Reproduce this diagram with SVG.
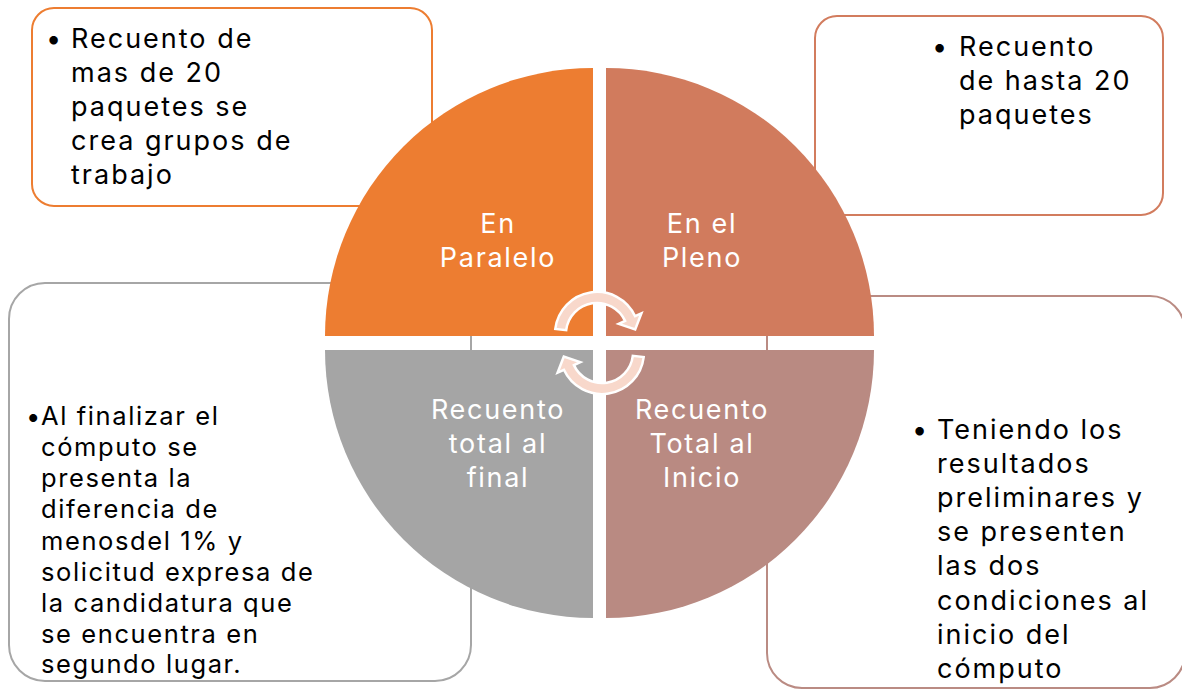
<svg xmlns="http://www.w3.org/2000/svg" width="1182" height="689" viewBox="0 0 1182 689">
<style>
.box{fill:#FFFFFF;stroke-width:2}
.t{font-family:Inter,"Noto Sans","Liberation Sans",sans-serif;font-size:27px;letter-spacing:2px;fill:#000000}
.tb{font-family:Inter,"Noto Sans","Liberation Sans",sans-serif;font-size:25.5px;letter-spacing:1.6px;fill:#000000}
.lbl{font-family:Inter,"Noto Sans","Liberation Sans",sans-serif;font-size:27px;letter-spacing:1.7px;fill:#FFFFFF;text-anchor:middle}
.arr{fill:#F8D8CB;stroke:#FFFFFF;stroke-width:2.5;stroke-linejoin:miter}
</style>
<rect width="1182" height="689" fill="#FFFFFF"/>
<g id="box-tl">
<rect class="box" x="32" y="8" width="400" height="198" rx="22" stroke="#ED7D31"/>
<text class="t"><tspan x="46" y="48">•</tspan><tspan x="71" y="48">Recuento de</tspan><tspan x="71" y="82">mas de 20</tspan><tspan x="71" y="116">paquetes se</tspan><tspan x="71" y="150">crea grupos de</tspan><tspan x="71" y="184">trabajo</tspan></text>
</g>
<g id="box-tr">
<rect class="box" x="815" y="16" width="348" height="199" rx="22" stroke="#D27C5E"/>
<text class="t"><tspan x="932" y="56">•</tspan><tspan x="959" y="56">Recuento</tspan><tspan x="959" y="90">de hasta 20</tspan><tspan x="959" y="124">paquetes</tspan></text>
</g>
<g id="box-bl">
<rect class="box" x="9" y="283" width="462" height="398" rx="36" stroke="#A6A6A6"/>
<text class="tb"><tspan x="26" y="425">•</tspan><tspan x="41" y="425">Al finalizar el</tspan><tspan x="41" y="456">cómputo se</tspan><tspan x="41" y="487">presenta la</tspan><tspan x="41" y="518">diferencia de</tspan><tspan x="41" y="550">menosdel 1% y</tspan><tspan x="41" y="581">solicitud expresa de</tspan><tspan x="41" y="612">la candidatura que</tspan><tspan x="41" y="643">se encuentra en</tspan><tspan x="41" y="673">segundo lugar.</tspan></text>
</g>
<g id="box-br">
<rect class="box" x="767" y="296" width="418" height="392" rx="35" stroke="#BA8B83"/>
<text class="t"><tspan x="912" y="439">•</tspan><tspan x="937" y="439">Teniendo los</tspan><tspan x="937" y="473">resultados</tspan><tspan x="937" y="507">preliminares y</tspan><tspan x="937" y="541">se presenten</tspan><tspan x="937" y="575">las dos</tspan><tspan x="937" y="610">condiciones al</tspan><tspan x="937" y="644">inicio del</tspan><tspan x="937" y="678">cómputo</tspan></text>
</g>
<g id="q-tl">
<path d="M593,336 L325,336 A268,268 0 0 1 593,68 Z" fill="#ED7D31"/>
<text class="lbl"><tspan x="498" y="233">En</tspan><tspan x="498" y="267">Paralelo</tspan></text>
</g>
<g id="q-tr">
<path d="M606,336 L606,68 A268,268 0 0 1 874,336 Z" fill="#D17B5D"/>
<text class="lbl"><tspan x="702" y="233">En el</tspan><tspan x="702" y="267">Pleno</tspan></text>
</g>
<g id="q-bl">
<path d="M593,350 L593,618 A268,268 0 0 1 325,350 Z" fill="#A5A5A5"/>
<text class="lbl"><tspan x="498" y="419">Recuento</tspan><tspan x="498" y="453">total al</tspan><tspan x="498" y="487">final</tspan></text>
</g>
<g id="q-br">
<path d="M606,350 L874,350 A268,268 0 0 1 606,618 Z" fill="#B98A82"/>
<text class="lbl"><tspan x="702" y="419">Recuento</tspan><tspan x="702" y="453">Total al</tspan><tspan x="702" y="487">Inicio</tspan></text>
</g>
<g id="connectors">
<path class="arr" d="M555.3,328.9 A42,42 0 0 1 635.1,316.2 L641.4,313.3 L635.2,329.5 L618.7,323.9 L625.1,320.9 A31,31 0 0 0 566.2,330.2 Z"/>
<path class="arr" d="M643.7,357.1 A42,42 0 0 1 563.9,369.8 L557.6,372.7 L563.8,356.5 L580.3,362.1 L573.9,365.1 A31,31 0 0 0 632.8,355.8 Z"/>
</g>
</svg>
